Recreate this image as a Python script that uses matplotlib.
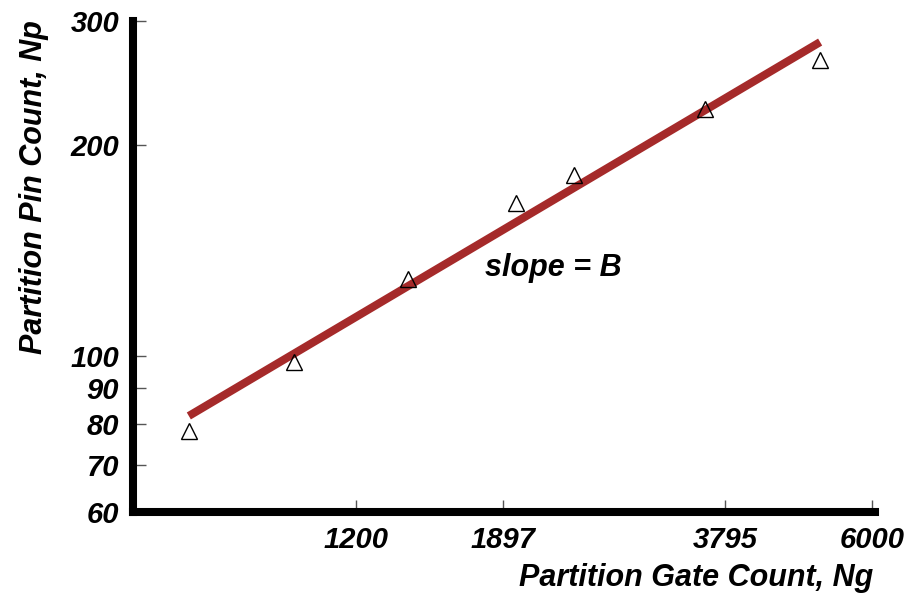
import matplotlib.pyplot as plt
from matplotlib.ticker import NullLocator, FixedLocator, FixedFormatter

plt.rcParams['font.family'] = ['Liberation Sans', 'DejaVu Sans']

# measured partitions (gate count vs pin count)
gates = [714, 990, 1411, 1975, 2366, 3565, 5100]
pins = [78.3, 98.1, 128.8, 165, 181, 225, 264]

# fitted Rent line end points
fit_x = [714, 5100]
fit_y = [82.2, 280]

x_ticks = [1200, 1897, 3795, 6000]
y_ticks = [60, 70, 80, 90, 100, 200, 300]

fig = plt.figure(figsize=(9.12, 5.97), dpi=100)
ax = fig.add_axes([0.1458, 0.1424, 0.8136, 0.8224])

ax.plot(fit_x, fit_y, color='#A52A2A', lw=5.8, solid_capstyle='butt', zorder=2)
ax.plot(gates, pins, ls='none', marker='^', ms=12, mfc='none', mec='black', mew=1.0, zorder=3)

ax.set_xscale('log')
ax.set_yscale('log')
ax.set_xlim(600, 6050)
ax.set_ylim(60, 300)

ax.xaxis.set_major_locator(FixedLocator(x_ticks))
ax.xaxis.set_major_formatter(FixedFormatter([str(t) for t in x_ticks]))
ax.xaxis.set_minor_locator(NullLocator())
ax.yaxis.set_major_locator(FixedLocator(y_ticks))
ax.yaxis.set_major_formatter(FixedFormatter([str(t) for t in y_ticks]))
ax.yaxis.set_minor_locator(NullLocator())

for s in ['top', 'right']:
    ax.spines[s].set_visible(False)
for s in ['left', 'bottom']:
    ax.spines[s].set_linewidth(5.8)
    ax.spines[s].set_capstyle('projecting')

ax.tick_params(direction='in', length=9, width=1, color='#555555', pad=10)
for lab in ax.get_xticklabels() + ax.get_yticklabels():
    lab.set_fontsize(21)
    lab.set_fontweight('bold')
    lab.set_fontstyle('italic')

ax.text(0.474, 0.497, 'slope = B', transform=ax.transAxes, ha='left', va='center',
        fontsize=22, fontweight='bold', fontstyle='italic')

fig.text(0.957, 0.032, 'Partition Gate Count, Ng', ha='right', va='center',
         fontsize=22, fontweight='bold', fontstyle='italic')
fig.text(0.037, 0.9665, 'Partition Pin Count, Np', ha='center', va='top', rotation=90,
         fontsize=22, fontweight='bold', fontstyle='italic')

fig.savefig('out.png', dpi=100)
